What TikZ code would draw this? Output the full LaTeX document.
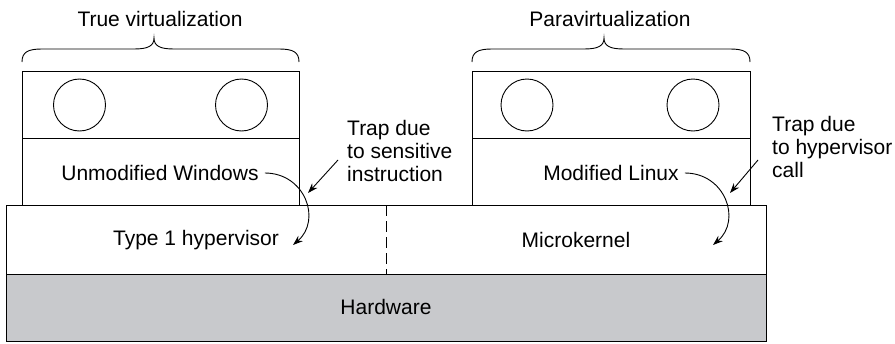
\documentclass[tikz,border=0pt]{standalone}
\usepackage{fontspec}
\setmainfont{Liberation Sans}
\usetikzlibrary{arrows.meta}
\definecolor{hwgray}{RGB}{200,201,204}
\begin{document}
\begin{tikzpicture}[x=1pt,y=-1pt,
  every node/.style={font=\fontsize{21}{23}\selectfont, inner sep=0pt},
  box/.style={draw, line width=0.9pt},
  ln/.style={line width=0.9pt},
  arr/.style={line width=0.9pt, -{Stealth[length=10pt,width=7pt]}},
  vmcircle/.style={draw, line width=0.9pt, circle, minimum size=52pt},
  trap/.style={align=left, anchor=north west, font=\fontsize{21}{23}\selectfont}]
\useasboundingbox (0,0) rectangle (895,343);
% hardware
\draw[box, fill=hwgray] (6,274) rectangle (766,341);
\node (hw) at (386,307) {Hardware};
% hypervisor layer
\draw[box, fill=white] (6,205) rectangle (766,274);
\draw[ln, dash pattern=on 11pt off 5pt] (386,205) -- (386,274);
\node (hyp) at (196,240) {Type 1 hypervisor};
\node (mk) at (576,240) {Microkernel};
% left VM
\draw[box] (22,205) rectangle (299,71);
\draw[ln] (22,138) -- (299,138);
\node[vmcircle] (c1) at (79.5,105) {};
\node[vmcircle] (c2) at (241.5,105) {};
\node (uw) at (160,173) {Unmodified Windows};
% right VM
\draw[box] (472,205) rectangle (750,71);
\draw[ln] (472,138) -- (750,138);
\node[vmcircle] (c3) at (527,105) {};
\node[vmcircle] (c4) at (693,105) {};
\node (ml) at (611,173) {Modified Linux};
% braces
\draw[ln] (22,62) .. controls (22,52) and (28,49) .. (42,49) -- (134,49)
  .. controls (148,49) and (154,46) .. (154,38)
  .. controls (154,46) and (160,49) .. (174,49) -- (279,49)
  .. controls (293,49) and (299,52) .. (299,62);
\draw[ln] (472,62) .. controls (472,52) and (478,49) .. (492,49) -- (584,49)
  .. controls (598,49) and (604,46) .. (604,38)
  .. controls (604,46) and (610,49) .. (624,49) -- (730,49)
  .. controls (744,49) and (750,52) .. (750,62);
\node (tv) at (160,19) {True virtualization};
\node (pv) at (610,19) {Paravirtualization};
% trap labels
\node[trap] (t1) at (347,120) {Trap due\\to sensitive\\instruction};
\node[trap] (t2) at (772,116) {Trap due\\to hypervisor\\call};
% curved arrows
\coordinate (e1) at (293,245);
\coordinate (e2) at (713,245);
\draw[arr] ([xshift=6pt]uw.east) .. controls (305,173) and (322,220) .. (e1);
\draw[arr] ([xshift=6pt]ml.east) .. controls (725,173) and (742,220) .. (e2);
% straight arrows
\coordinate (s1) at (308,193);
\coordinate (s2) at (730,193);
\draw[arr] (t1.west |- 0,160) ++(-9,0) -- (s1);
\draw[arr] (t2.west |- 0,160) ++(-14,0) -- (s2);
\end{tikzpicture}
\end{document}
